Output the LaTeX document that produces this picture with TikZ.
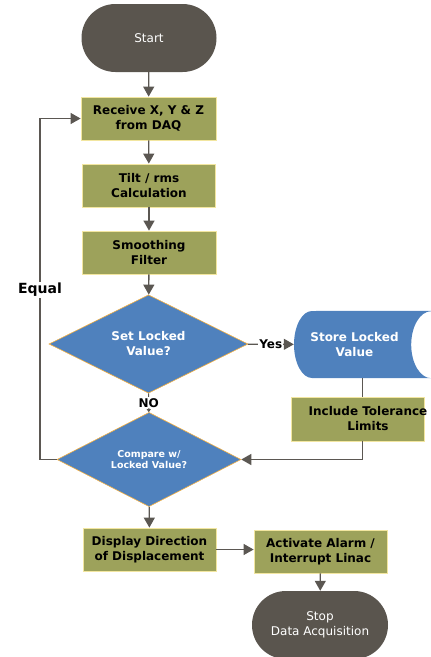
\documentclass[tikz,border=0pt]{standalone}
\usepackage{fontspec}
\setmainfont{DejaVu Sans}
\usetikzlibrary{shapes.geometric}
\usetikzlibrary{arrows.meta}
\definecolor{termgray}{HTML}{5A554E}
\definecolor{boxolive}{HTML}{9DA25B}
\definecolor{boxedge}{HTML}{F2E6A0}
\definecolor{decblue}{HTML}{4F81BD}
\definecolor{decedge}{HTML}{F5B041}
\definecolor{linegray}{HTML}{5B5752}

\begin{document}
\begin{tikzpicture}[x=1pt,y=1pt,
    terminal/.style={rectangle,rounded corners=33.9pt,fill=termgray,text=white,minimum width=135pt,minimum height=68pt,align=center,font=\fontsize{12}{15}\selectfont},
    process/.style={rectangle,fill=boxolive,draw=boxedge,line width=0.8pt,minimum width=133pt,minimum height=43pt,align=center,font=\fontsize{12}{15}\selectfont\bfseries},
    decision/.style={diamond,fill=decblue,draw=decedge,line width=0.6pt,inner sep=0pt,text=white,align=center,font=\fontsize{12}{15}\selectfont\bfseries},
    flow/.style={draw=linegray,line width=1.3pt,-{Triangle[length=10pt,width=11pt]}},
    tag/.style={fill=white,inner sep=1pt,font=\fontsize{12}{14}\selectfont\bfseries}]
    \useasboundingbox (0,0) rectangle (431,-657);
    \clip (0,0) rectangle (431,-657);

    \node[terminal] (start) at (149,-38) {Start};
    \node[process,minimum width=135pt] (recv) at (148.5,-118.5) {Receive X, Y \& Z\\from DAQ};
    \node[process] (tilt) at (149,-185.5) {Tilt / rms\\Calculation};
    \node[process,minimum width=134pt] (smooth) at (149,-252.5) {Smoothing\\Filter};
    \node[decision,minimum width=199pt,minimum height=92pt] (setlock) at (148.5,-344) {Set Locked\\Value?};

    % stored data shape, drawn round an empty node
    \node[rectangle,minimum width=137pt,minimum height=67pt,inner sep=0pt] (store) at (362.5,-344.5) {};
    \fill[decblue] (store.north east) -- (312,-311) arc[start angle=90,end angle=270,x radius=18,y radius=33.5]
        -- (store.south east) arc[start angle=270,end angle=90,x radius=20,y radius=33.5] -- cycle;
    \node[text=white,align=center,font=\fontsize{12}{15}\selectfont\bfseries] (storetext) at (354.5,-344.5) {Store Locked\\Value};

    \node[process,minimum height=44pt] (tol) at (357.5,-419) {};
    \node[align=center,font=\fontsize{12}{15}\selectfont\bfseries] (toltext) at (368,-419) {Include Tolerance\\Limits};

    \node[decision,minimum width=184pt,minimum height=90pt,font=\fontsize{9.5}{11}\selectfont\bfseries] (compare) at (149,-459.5) {Compare w/\\Locked Value?};
    \node[process] (disp) at (149.5,-549.5) {Display Direction\\of Displacement};
    \node[process] (alarm) at (320.5,-551.5) {Activate Alarm /\\Interrupt Linac};
    \node[terminal,minimum width=136pt] (stop) at (320,-625) {Stop\\Data Acquisition};

    \coordinate (loop) at (40,-459.5);

    \draw[flow] (start) -- (recv);
    \draw[flow] (recv) -- (tilt);
    \draw[flow] (tilt) -- (smooth);
    \draw[flow] (smooth) -- (setlock);
    \draw[flow] (setlock) -- node[tag] (yes) {Yes} (store);
    \draw[draw=linegray,line width=1pt,-{Triangle[length=3pt,width=4pt]}] (setlock) -- node[tag] (no) {NO} (compare);
    \draw[linegray,line width=1.3pt] (store.south) -- (store.south |- tol.north);
    \draw[flow] (store.south |- tol.south) |- (compare.east);
    \draw[flow] (compare.west) -- (loop) |- (recv.west);
    \node[tag,font=\fontsize{14}{16}\selectfont\bfseries] (equal) at (40,-290) {Equal};
    \draw[flow] (compare) -- (disp);
    \draw[flow] (disp.east) -- (disp.east -| alarm.west);
    \draw[flow] (alarm) -- (stop);
\end{tikzpicture}
\end{document}
